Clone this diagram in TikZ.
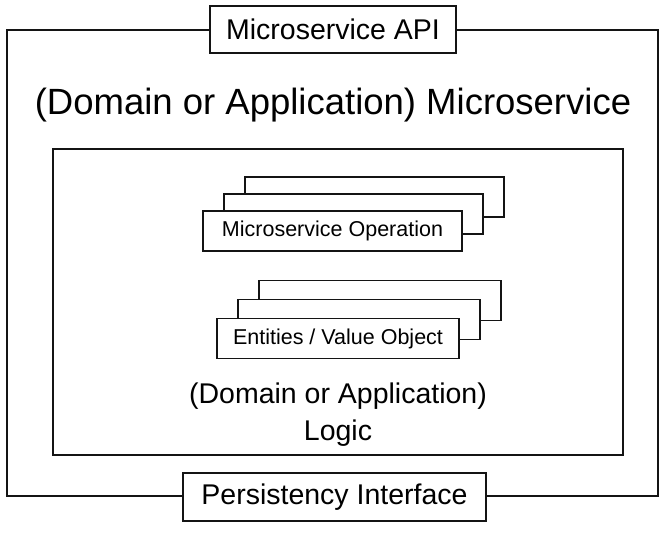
\documentclass[tikz,border=0pt]{standalone}
\usepackage{fontspec}
\setmainfont{Liberation Sans}
\usepackage{xcolor}
\usepackage{tikz}
\usetikzlibrary{positioning, calc}
\definecolor{lineblack}{RGB}{20,20,20}

\tikzset{
    framebox/.style={
        draw=lineblack,
        line width=1.4pt,
        fill=white,
        inner sep=0pt
    },
    portbox/.style={
        framebox,
        font=\fontsize{28.5}{32}\selectfont
    },
    stackbox/.style={
        framebox,
        line width=1.2pt,
        font=\fontsize{21.5}{24}\selectfont
    }
}

\begin{document}
\begin{tikzpicture}[x=1pt, y=-1pt]

        \useasboundingbox (0,0) rectangle (670,533);

        % Microservice frame
        \node[
            framebox,
            minimum width=651pt,
            minimum height=466pt
        ]
        (service) at (332.5,263) {};

        \node[
            portbox,
            minimum width=246pt,
            minimum height=47pt
        ]
        (api) at (333,29.5) {Microservice API};

        \node[
            portbox,
            minimum width=303pt,
            minimum height=48pt
        ]
        (persist) at (334.5,497) {Persistency Interface};

        \node[
            font=\fontsize{36.5}{40}\selectfont
        ]
        (title) at (333,105) {(Domain or Application) Microservice};

        % Logic frame
        \node[
            framebox,
            minimum width=570pt,
            minimum height=306pt
        ]
        (logic) at (338,302) {};

        % Operation stack
        \node[stackbox, minimum width=259pt, minimum height=40pt]
        (op3) at (374.5,197) {};
        \node[stackbox, minimum width=259pt, minimum height=40pt]
        (op2) at ([shift={(-21,17)}]op3.center) {};
        \node[stackbox, minimum width=259pt, minimum height=40pt]
        (op) at ([shift={(-21,17)}]op2.center) {Microservice Operation};

        % Entity stack
        \node[stackbox, minimum width=242pt, minimum height=40pt]
        (ent3) at (380,300.5) {};
        \node[stackbox, minimum width=242pt, minimum height=40pt]
        (ent2) at ([shift={(-21,19)}]ent3.center) {};
        \node[stackbox, minimum width=242pt, minimum height=40pt]
        (ent) at ([shift={(-21,19)}]ent2.center) {Entities / Value Object};

        \node[
            align=center,
            font=\fontsize{28.5}{37}\selectfont
        ]
        (logictext) at (338,415) {(Domain or Application)\\Logic};

    \end{tikzpicture}
\end{document}
